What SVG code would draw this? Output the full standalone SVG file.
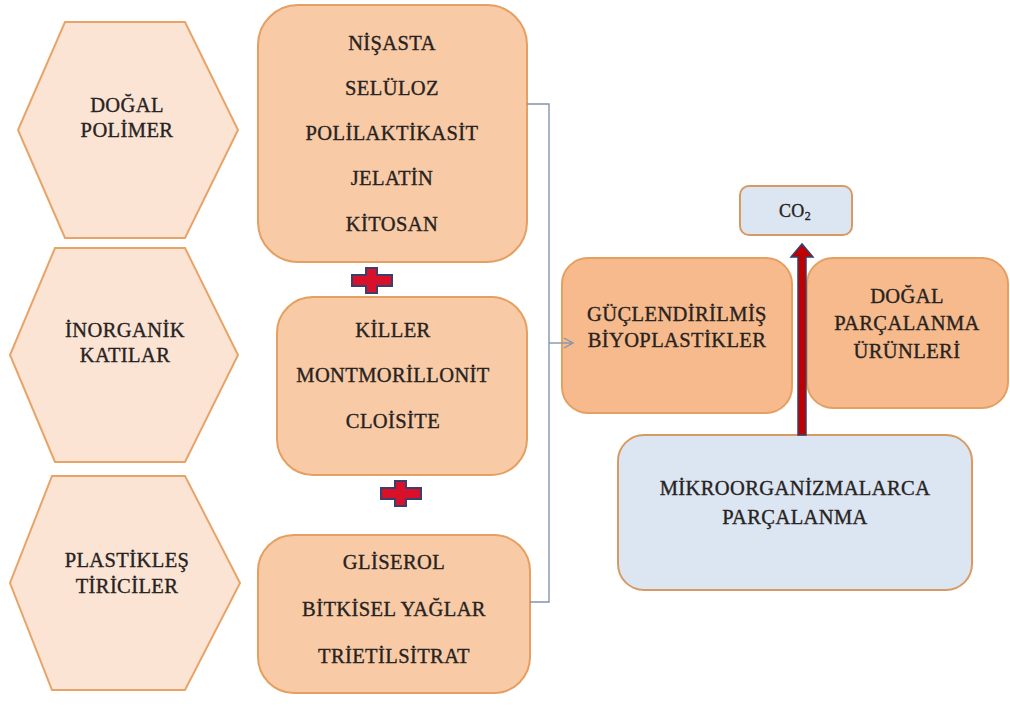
<svg xmlns="http://www.w3.org/2000/svg" width="1010" height="706" viewBox="0 0 1010 706">
  <style>
    .hex { fill: #FCE4D5; stroke: #E8A468; stroke-width: 2; }
    .box { fill: #F9CAA6; stroke: #E59F61; stroke-width: 2; }
    .box2 { fill: #F7BA8C; stroke: #E59F61; stroke-width: 2; }
    .blue { fill: #DCE6F2; stroke: #D99A62; stroke-width: 2; }
    .lbl { font-family: 'Liberation Serif', serif; font-size: 20.5px; letter-spacing: 0.4px; fill: #262322; stroke: #262322; stroke-width: 0.35; text-anchor: middle; }
    .conn { fill: none; stroke: #8494AA; stroke-width: 1.4; }
    .plus { fill: #D8102A; stroke: #3B3F6E; stroke-width: 2; }
  </style>
  <defs>
    <marker id="chev" markerWidth="12" markerHeight="12" refX="10" refY="6" orient="auto" markerUnits="userSpaceOnUse">
      <path d="M1,1 L10,6 L1,11" fill="none" stroke="#8494AA" stroke-width="1.4"/>
    </marker>
  </defs>
  <rect width="1010" height="706" fill="#FFFFFF"/>

  <!-- left column: hexagon categories -->
  <g id="hex-dogal-polimer">
    <polygon class="hex" points="65,22 185,22 238,130 185,238 65,238 18,130"/>
    <text class="lbl" x="127" y="112">DOĞAL</text>
    <text class="lbl" x="127" y="137">POLİMER</text>
  </g>
  <g id="hex-inorganik">
    <polygon class="hex" points="55,248 185,248 238,355 185,462 55,462 10,355"/>
    <text class="lbl" x="125" y="337">İNORGANİK</text>
    <text class="lbl" x="125" y="362">KATILAR</text>
  </g>
  <g id="hex-plastiklestirici">
    <polygon class="hex" points="52,476 185,476 240,583 185,690 52,690 10,583"/>
    <text class="lbl" x="127" y="567">PLASTİKLEŞ</text>
    <text class="lbl" x="127" y="593">TİRİCİLER</text>
  </g>

  <!-- middle column: component lists -->
  <g id="box-polimerler">
    <rect class="box" x="258" y="5" width="269" height="257" rx="40"/>
    <text class="lbl" x="392" y="50">NİŞASTA</text>
    <text class="lbl" x="392" y="95">SELÜLOZ</text>
    <text class="lbl" x="392" y="140">POLİLAKTİKASİT</text>
    <text class="lbl" x="392" y="185">JELATİN</text>
    <text class="lbl" x="392" y="231">KİTOSAN</text>
  </g>
  <g id="plus-1">
    <path class="plus" d="M366,268 h11 v7 h15 v11 h-15 v7 h-11 v-7 h-14 v-11 h14 z"/>
  </g>
  <g id="box-killer">
    <rect class="box" x="277" y="297" width="250" height="178" rx="36"/>
    <text class="lbl" x="393" y="337">KİLLER</text>
    <text class="lbl" x="393" y="382">MONTMORİLLONİT</text>
    <text class="lbl" x="393" y="428">CLOİSİTE</text>
  </g>
  <g id="plus-2">
    <path class="plus" d="M395,481 h11 v7 h15 v11 h-15 v7 h-11 v-7 h-14 v-11 h14 z"/>
  </g>
  <g id="box-plastiklestiriciler">
    <rect class="box" x="258" y="535" width="272" height="158" rx="36"/>
    <text class="lbl" x="394" y="569">GLİSEROL</text>
    <text class="lbl" x="394" y="616">BİTKİSEL YAĞLAR</text>
    <text class="lbl" x="394" y="663">TRİETİLSİTRAT</text>
  </g>

  <!-- right side: products and degradation -->
  <g id="box-co2">
    <rect class="blue" x="740" y="186" width="112" height="49" rx="9"/>
    <text class="lbl" x="795" y="217" style="font-size:18px">CO<tspan style="font-size:12px" dy="3">2</tspan></text>
  </g>
  <g id="box-biyoplastik">
    <rect class="box2" x="562" y="258" width="230" height="155" rx="26"/>
    <text class="lbl" x="677" y="321">GÜÇLENDİRİLMİŞ</text>
    <text class="lbl" x="677" y="347">BİYOPLASTİKLER</text>
  </g>
  <g id="box-dogal-urunler">
    <rect class="box2" x="807" y="258" width="201" height="150" rx="26"/>
    <text class="lbl" x="907" y="303">DOĞAL</text>
    <text class="lbl" x="907" y="330">PARÇALANMA</text>
    <text class="lbl" x="907" y="358">ÜRÜNLERİ</text>
  </g>
  <g id="box-mikroorganizma">
    <rect class="blue" x="618" y="435" width="354" height="155" rx="26"/>
    <text class="lbl" x="795" y="495">MİKROORGANİZMALARCA</text>
    <text class="lbl" x="795" y="524">PARÇALANMA</text>
  </g>

  <!-- connectors -->
  <g id="connectors">
    <path class="conn" d="M527,104 H549 V602 H530"/>
    <path class="conn" d="M549,343 H573" marker-end="url(#chev)"/>
    <path id="arrow-co2" d="M798,435 V257 H791 L802,244 L813,257 H806 V435 Z" fill="#C00000" stroke="#34406E" stroke-width="1.5"/>
  </g>
</svg>
